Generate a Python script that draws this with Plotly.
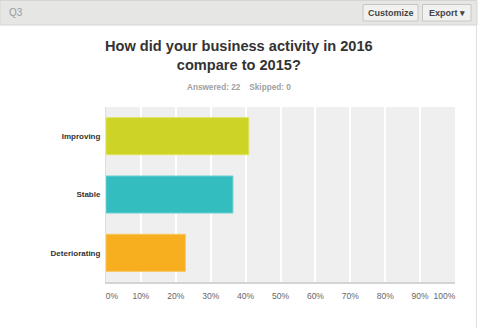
import plotly.graph_objects as go

# Survey results for Q3
categories = ["Improving", "Stable", "Deteriorating"]
percentages = [40.91, 36.36, 22.73]
bar_colors = ["#cdd425", "#33bdbf", "#f7ae1f"]
edge_colors = ["#dfe35f", "#6fd0d2", "#f9c55c"]
tick_values = [0, 10, 20, 30, 40, 50, 60, 70, 80, 90, 100]
tick_labels = ["0%", "10%", "20%", "30%", "40%", "50%", "60%", "70%", "80%", "90%", "100%"]
title_text = "How did your business activity in 2016<br>compare to 2015?"
answered, skipped = 22, 0

W, H = 480, 328
L, R, T, B = 106, 455, 107, 282
FONT = "Arial, Liberation Sans, sans-serif"


def px(x):
    return (x - L) / (R - L)


def py(y):
    return (B - y) / (B - T)


# edge labels nudged inward so they stay inside the plot width
shown_ticks = list(tick_labels)
shown_ticks[0] = "\u00a0" * 5 + shown_ticks[0]
shown_ticks[-1] = shown_ticks[-1] + "\u00a0" * 9

fig = go.Figure(
    go.Bar(
        x=percentages,
        y=categories,
        orientation="h",
        marker=dict(color=bar_colors, line=dict(color=edge_colors, width=1)),
        hoverinfo="skip",
    )
)

shapes = [
    # header strip
    dict(type="rect", xref="paper", yref="paper", x0=px(0), x1=px(477), y0=py(25), y1=py(0.5),
         fillcolor="#e6e6e4", line=dict(color="#d6d6d4", width=1), layer="below"),
    # right border of the panel
    dict(type="line", xref="paper", yref="paper", x0=px(476.5), x1=px(476.5), y0=py(25), y1=py(328),
         line=dict(color="#e0e0e0", width=1)),
    # buttons
    dict(type="rect", xref="paper", yref="paper", x0=px(363), x1=px(418), y0=py(21), y1=py(4.5),
         fillcolor="#f1f1ef", line=dict(color="#c6c6c4", width=1)),
    dict(type="rect", xref="paper", yref="paper", x0=px(422.5), x1=px(471), y0=py(21), y1=py(4.5),
         fillcolor="#f1f1ef", line=dict(color="#c6c6c4", width=1)),
]

annotations = [
    dict(text="Q3", xref="paper", yref="paper", x=px(7), y=py(12.5), xanchor="left", yanchor="middle",
         showarrow=False, font=dict(family=FONT, size=10, color="#9a9a9a")),
    dict(text="<b>Customize</b>", xref="paper", yref="paper", x=px(390.5), y=py(12.5),
         xanchor="center", yanchor="middle", showarrow=False, font=dict(family=FONT, size=9, color="#444")),
    dict(text="<b>Export \u25be</b>", xref="paper", yref="paper", x=px(446.5), y=py(12.5),
         xanchor="center", yanchor="middle", showarrow=False, font=dict(family=FONT, size=9, color="#444")),
    dict(text=f"<b>Answered: {answered}\u00a0\u00a0\u00a0 Skipped: {skipped}</b>", xref="paper", yref="paper",
         x=px(238.5), y=py(87), xanchor="center", yanchor="middle", showarrow=False,
         font=dict(family=FONT, size=8.2, color="#a0a0a0")),
    dict(text=f"<b>{title_text}</b>", xref="paper", yref="paper",
         x=px(239), y=py(55.5), xanchor="center", yanchor="middle", showarrow=False,
         font=dict(family=FONT, size=14.6, color="#333333")),
]

fig.update_layout(
    width=W,
    height=H,
    margin=dict(l=L, r=W - R, t=T, b=H - B, pad=0, autoexpand=False),
    paper_bgcolor="white",
    plot_bgcolor="#efefef",
    showlegend=False,
    bargap=0.365,
    shapes=shapes,
    annotations=annotations,
    xaxis=dict(
        range=[0, 100],
        tickvals=tick_values,
        ticktext=shown_ticks,
        showgrid=True,
        gridcolor="#ffffff",
        gridwidth=2,
        zeroline=False,
        showline=True,
        linecolor="#d4d4d4",
        linewidth=2,
        ticks="outside",
        ticklen=5,
        tickcolor="rgba(0,0,0,0)",
        tickfont=dict(family=FONT, size=8.5, color="#666666"),
        fixedrange=True,
        automargin=False,
    ),
    yaxis=dict(
        categoryorder="array",
        categoryarray=categories,
        autorange="reversed",
        showgrid=False,
        zeroline=False,
        showline=True,
        linecolor="#dedede",
        linewidth=1,
        ticks="outside",
        ticklen=3,
        tickcolor="rgba(0,0,0,0)",
        tickfont=dict(family=FONT, size=8, color="#333333"),
        fixedrange=True,
        automargin=False,
    ),
)

# category labels are bold
fig.update_yaxes(ticktext=[f"<b>{c}</b>" for c in categories], tickvals=categories)

fig.write_html("out.html", config={"displayModeBar": False})
